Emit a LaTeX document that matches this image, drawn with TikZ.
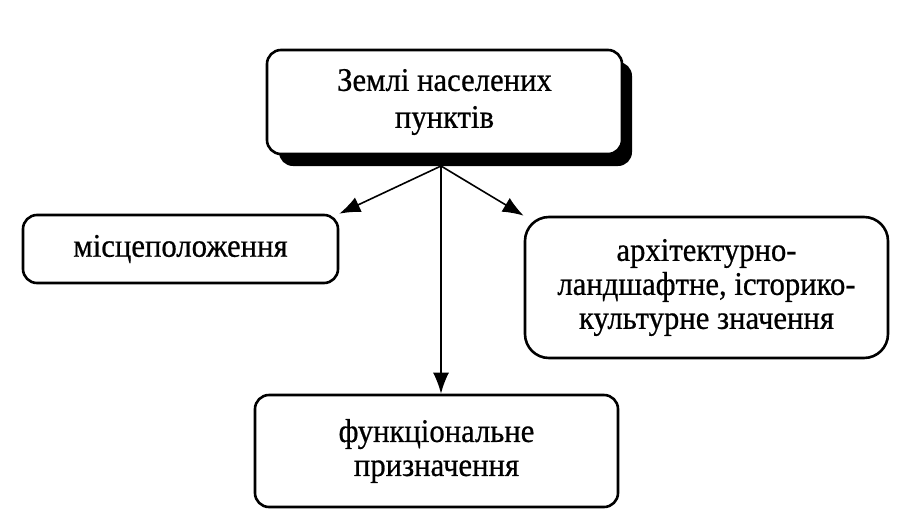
\documentclass[tikz,border=0pt]{standalone}
\usepackage{fontspec}
\setmainfont{Liberation Serif}[FakeStretch=0.93, FakeBold=0.6]
\usetikzlibrary{arrows.meta}
\begin{document}
\begin{tikzpicture}[x=1pt,y=1pt,
  box/.style={draw, line width=2.6pt, rounded corners=14pt, fill=white, align=center,
    inner sep=0pt, font=\fontsize{33}{35}\selectfont},
  conn/.style={line width=1.6pt, -{Latex[length=21pt,width=16pt]}}]
\useasboundingbox (0,0) rectangle (906,-523);
% shadow of top box
\fill[black, rounded corners=14pt] (279,-62) rectangle (632,-166);
\node[box, minimum width=355pt, minimum height=104pt, font=\fontsize{33}{37}\selectfont] (top) at (444.5,-102) {Землі населених\\пунктів};
\node[box, minimum width=315pt, minimum height=68pt] (loc) at (180.5,-249) {місцеположення};
\node[box, rounded corners=24pt, minimum width=363pt, minimum height=141pt, font=\fontsize{33}{34}\selectfont] (arch) at (706.5,-287.5) {архітектурно-\\ландшафтне, історико-\\культурне значення};
\node[box, minimum width=363pt, minimum height=112pt, font=\fontsize{33}{34}\selectfont] (func) at (436.5,-451) {функціональне\\призначення};
\coordinate (o) at (441,-166);
\draw[conn] (o) -- (loc.north east);
\draw[conn] (o) -- (arch.north west);
\draw[conn] (o) -- (func.north -| o);
\end{tikzpicture}
\end{document}
